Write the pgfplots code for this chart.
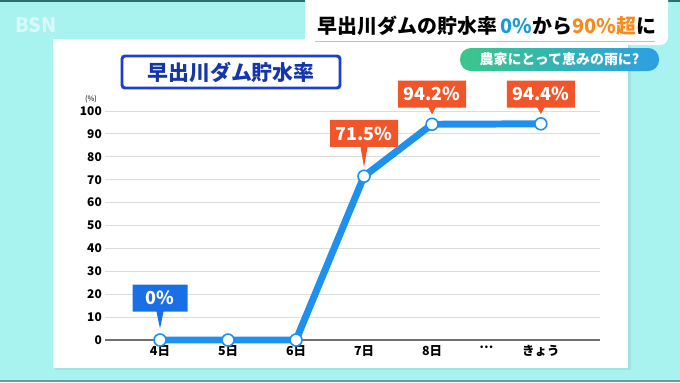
\documentclass[border=0pt]{standalone}
\usepackage{pgfplots}
\pgfplotsset{compat=1.18}
\usepackage{fontspec}
\setmainfont{Noto Sans CJK JP}
\usetikzlibrary{shapes.callouts}
\definecolor{bgcyan}{HTML}{A8F2F0}
\definecolor{darkteal}{HTML}{2E6E72}
\definecolor{linecol}{HTML}{1E90EE}
\definecolor{calloutorange}{HTML}{F0562A}
\definecolor{calloutblue}{HTML}{1A6FE6}
\definecolor{titleblue}{HTML}{1D3FCF}
\definecolor{titletext}{HTML}{1535AA}
\definecolor{hdrblue}{HTML}{1A9AD6}
\definecolor{hdrorange}{HTML}{F58A1F}
\definecolor{pillgreen}{HTML}{3CC68A}
\definecolor{pillblue}{HTML}{2C9FE2}
\definecolor{gridgray}{HTML}{DCDCDC}
\definecolor{axisgray}{HTML}{707070}
\begin{document}
\begin{tikzpicture}[x=1bp,y=1bp]
\begin{scope}[shift={(-105,-42)}]
% background
\fill[bgcyan] (0,0) rectangle (680,382);
\fill[darkteal] (0,380) rectangle (680,382);
\fill[darkteal!70] (0,0) rectangle (680,2.5);
% logo
\node[text=white, opacity=0.55, font=\bfseries\fontsize{20}{20}\selectfont, anchor=west] at (12,357) {BSN};
% panel
\fill[black, opacity=0.06] (55,12) rectangle (631,341);
\fill[white] (53,14) rectangle (628,343);
% header
\begin{scope}
\clip (0,0) rectangle (680,382);
\fill[white, rounded corners=8] (305,337) -- (668,337) -- (668,390) -- (305,390) -- cycle;
\fill[white] (305,337) rectangle (320,382);
\end{scope}
\draw[bgcyan!80!teal, line width=1.5] (315,340.5) -- (655,340.5);
\node[anchor=base, font=\bfseries\fontsize{20}{20}\selectfont, inner sep=0] at (487,349)
  {早出川ダムの貯水率\,\textcolor{hdrblue}{0\%}から\textcolor{hdrorange}{90\%超}に};
% pill
\shade[left color=pillgreen, right color=pillblue, rounded corners=11] (460,311) rectangle (659,334);
\node[text=white, font=\bfseries\fontsize{14}{14}\selectfont, inner sep=0] at (559.5,322.5) {農家にとって恵みの雨に?};
% title box
\draw[titleblue, line width=3, fill=white, rounded corners=3] (122,294) rectangle (340,326);
\node[text=titletext, font=\bfseries\fontsize{21}{21}\selectfont, inner sep=0] at (231,310) {早出川ダム貯水率};
% (%)
\node[font=\fontsize{7.5}{7.5}\selectfont, inner sep=0] at (91,283) {(\%)};
\end{scope}
\begin{axis}[
  scale only axis, width=495bp, height=229bp,
  xmin=-0.809, xmax=6.47, ymin=0, ymax=100,
  axis line style={draw=none},
  clip=false,
  ytick={0,10,...,100},
  xtick={0,1,2,3,4,4.8,5.6},
  xticklabels={4日,5日,6日,7日,8日,…,きょう},
  tick style={draw=none},
  ymajorgrids, major grid style={gridgray, line width=1},
  yticklabel style={font=\bfseries\fontsize{12}{12}\selectfont, inner sep=2pt, xshift=-1pt},
  xticklabel style={font=\bfseries\fontsize{12.5}{12.5}\selectfont, yshift=-2pt},
  /pgf/number format/assume math mode=true,
]
\draw[axisgray, line width=1.3] (axis cs:-0.809,0) -- (axis cs:6.47,0);
\addplot[linecol, line width=7, mark=*, mark size=6,
  mark options={fill=white, draw=linecol, line width=1.6}]
  coordinates {(0,0) (1,0) (2,0) (3,71.5) (4,94.2) (5.6,94.4)};
\node[rectangle callout, fill=calloutblue, text=white, font=\bfseries\fontsize{18}{18}\selectfont,
  minimum width=55bp, minimum height=27bp, inner sep=2pt,
  callout absolute pointer={(axis cs:0,5)}] at (axis cs:0,18.3) {0\%};
\node[rectangle callout, fill=calloutorange, text=white, font=\bfseries\fontsize{18}{18}\selectfont,
  minimum width=68bp, minimum height=27bp, inner sep=2pt,
  callout absolute pointer={(axis cs:3,75.5)}] at (axis cs:3,90.2) {71.5\%};
\node[rectangle callout, fill=calloutorange, text=white, font=\bfseries\fontsize{18}{18}\selectfont,
  minimum width=68bp, minimum height=27bp, inner sep=2pt,
  callout absolute pointer={(axis cs:4,98.5)}] at (axis cs:4,107.4) {94.2\%};
\node[rectangle callout, fill=calloutorange, text=white, font=\bfseries\fontsize{18}{18}\selectfont,
  minimum width=68bp, minimum height=27bp, inner sep=2pt,
  callout absolute pointer={(axis cs:5.6,98.7)}] at (axis cs:5.6,107.4) {94.4\%};
\end{axis}
\end{tikzpicture}
\end{document}
